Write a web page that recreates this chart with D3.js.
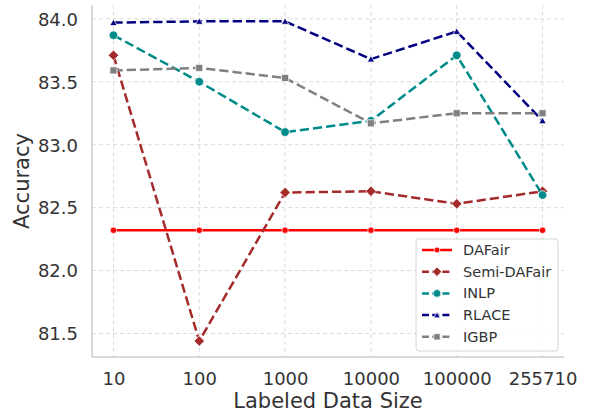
<!DOCTYPE html>
<html><head><meta charset="utf-8">
<script src="https://cdn.jsdelivr.net/npm/d3@7"></script>
<style>body{margin:0;background:#fff}svg{display:block}text{font-family:"DejaVu Sans",sans-serif;fill:#333}</style>
</head><body><svg id="c" width="590" height="414"></svg>
<script>
const categories = ["10","100","1000","10000","100000","255710"];
const dafair = [82.32,82.32,82.32,82.32,82.32,82.32];
const semiDafair = [83.71,81.44,82.62,82.63,82.53,82.63];
const inlp = [83.87,83.50,83.10,83.19,83.71,82.60];
const rlace = [83.97,83.98,83.98,83.68,83.90,83.19];
const igbp = [83.59,83.61,83.53,83.17,83.25,83.25];
const yTicks = [81.5,82.0,82.5,83.0,83.5,84.0];
const seriesNames = ["DAFair","Semi-DAFair","INLP","RLACE","IGBP"];

const series = [
  {name:seriesNames[0], values:dafair, color:"#ff0000", dash:null, marker:"dot"},
  {name:seriesNames[1], values:semiDafair, color:"#a52a2a", dash:"9.25,4", marker:"diamond"},
  {name:seriesNames[2], values:inlp, color:"#008b8b", dash:"9.25,4", marker:"circle"},
  {name:seriesNames[3], values:rlace, color:"#000080", dash:"9.25,4", marker:"triangle"},
  {name:seriesNames[4], values:igbp, color:"#808080", dash:"9.25,4", marker:"square"}
];

const L=92, R=564, T=5, B=357;
const svg = d3.select("#c");
const x = d3.scalePoint().domain(categories).range([L,R]).padding(0.25);
const y = d3.scaleLinear().domain([81.313,84.110]).range([B,T]);

// grid
const g = svg.append("g");
g.selectAll(".hg").data(yTicks).join("line")
  .attr("x1",L).attr("x2",R).attr("y1",d=>y(d)).attr("y2",d=>y(d))
  .attr("stroke","#dcdcdc").attr("stroke-width",1).attr("stroke-dasharray","4,3");
g.selectAll(".vg").data(categories).join("line")
  .attr("y1",T).attr("y2",B).attr("x1",d=>x(d)).attr("x2",d=>x(d))
  .attr("stroke","#dcdcdc").attr("stroke-width",1).attr("stroke-dasharray","4,3");

// axes
const yAxis = d3.axisLeft(y).tickValues(yTicks).tickFormat(d3.format(".1f")).tickSize(0).tickPadding(14);
const ya = svg.append("g").attr("transform",`translate(${L},0)`).call(yAxis);
ya.select(".domain").remove();
ya.selectAll("text").style("font-size","18px").attr("fill","#333").attr("dy","0.35em");
const xAxis = d3.axisBottom(x).tickSize(0).tickPadding(15);
const xa = svg.append("g").attr("transform",`translate(0,${B})`).call(xAxis);
xa.select(".domain").remove();
xa.selectAll("text").style("font-size","18px").attr("fill","#333");

svg.append("line").attr("x1",L).attr("x2",L).attr("y1",T).attr("y2",B).attr("stroke","#cccccc").attr("stroke-width",1.5);
svg.append("line").attr("x1",L).attr("x2",R).attr("y1",B).attr("y2",B).attr("stroke","#cccccc").attr("stroke-width",1.5);

svg.append("text").attr("x",(L+R)/2).attr("y",408).attr("text-anchor","middle").style("font-size","21px").text("Labeled Data Size");
svg.append("text").attr("transform",`translate(29,${(T+B)/2}) rotate(-90)`).attr("text-anchor","middle").style("font-size","21px").text("Accuracy");

function drawMarker(sel, type, color, cx, cy, s){
  s = s||1;
  let p;
  if(type==="dot") p = sel.append("circle").attr("cx",cx).attr("cy",cy).attr("r",3.2*s);
  else if(type==="circle") p = sel.append("circle").attr("cx",cx).attr("cy",cy).attr("r",4.3*s);
  else if(type==="diamond") p = sel.append("path").attr("d",d3.symbol().type(d3.symbolDiamond2).size(70*s*s)()).attr("transform",`translate(${cx},${cy})`);
  else if(type==="triangle") p = sel.append("path").attr("d",d3.symbol().type(d3.symbolTriangle2).size(38*s*s)()).attr("transform",`translate(${cx},${cy+0.8})`);
  else if(type==="square") p = sel.append("path").attr("d",d3.symbol().type(d3.symbolSquare2).size(64*s*s)()).attr("transform",`translate(${cx},${cy})`);
  p.attr("fill",color).attr("stroke","#fff").attr("stroke-width",0.75);
}

const line = d3.line().x((d,i)=>x(categories[i])).y(d=>y(d));
series.forEach(s=>{
  const gs = svg.append("g");
  gs.append("path").attr("d",line(s.values)).attr("fill","none").attr("stroke",s.color)
    .attr("stroke-width",2.5).attr("stroke-dasharray",s.dash);
  s.values.forEach((v,i)=>drawMarker(gs,s.marker,s.color,x(categories[i]),y(v)));
});

// legend
const lg = svg.append("g");
lg.append("rect").attr("x",416).attr("y",239).attr("width",142).attr("height",112).attr("rx",3)
  .attr("fill","#fff").attr("fill-opacity",0.85).attr("stroke","#d6d6d6").attr("stroke-width",1);
series.forEach((s,i)=>{
  const cy = 250 + i*21.7;
  lg.append("line").attr("x1",422).attr("x2",452).attr("y1",cy).attr("y2",cy).attr("stroke",s.color)
    .attr("stroke-width",2.5).attr("stroke-dasharray",s.dash?"7,3.2":null);
  drawMarker(lg,s.marker,s.color,437,cy,0.9);
  lg.append("text").attr("x",463).attr("y",cy).attr("dy","0.35em").style("font-size","14.5px").text(s.name);
});
</script></body></html>
